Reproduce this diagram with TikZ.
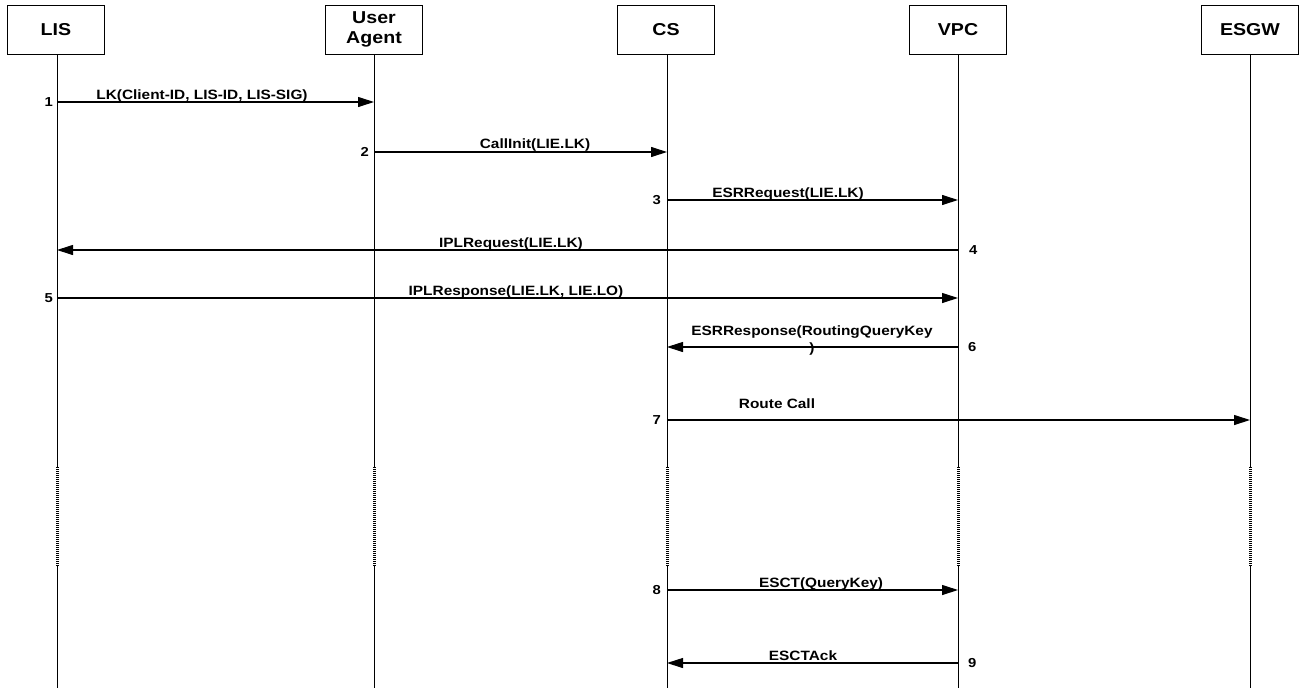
\documentclass[tikz,border=0pt]{standalone}
\usepackage{fontspec}
\setmainfont{Liberation Sans}
\newfontfamily\widefont{Liberation Sans}[FakeStretch=1.14]
\usetikzlibrary{arrows.meta,calc}
\begin{document}
\begin{tikzpicture}[x=1pt,y=-1pt,
  entity/.style={draw,line width=0.9pt,minimum width=97pt,minimum height=49pt,
    inner sep=0pt,align=center,font=\widefont\bfseries\fontsize{17.2}{20}\selectfont},
  lifeline/.style={line width=0.9pt},
  gapbar/.style={fill=black},
  gapdot/.style={fill=white},
  msg/.style={line width=1.1pt,-{Triangle[length=16pt,width=10pt]}},
  lbl/.style={anchor=base,inner sep=0pt,font=\widefont\bfseries\fontsize{13.5}{17}\selectfont},
  num/.style={inner sep=0pt,font=\widefont\bfseries\fontsize{13}{15}\selectfont}]
\useasboundingbox (0,0) rectangle (1305,688);

% participants
\node[entity] (lis)  at (56,29.5)   {LIS};
\node[entity] (ua)   at (374,29.5)  {User\\Agent};
\node[entity] (cs)   at (666,29.5)  {CS};
\node[entity] (vpc)  at (958,29.5)  {VPC};
\node[entity] (esgw) at (1250,29.5) {ESGW};

% anchor points on each lifeline
\foreach \L/\xx in {lis/57,ua/374,cs/667,vpc/958,esgw/1250} {
  \coordinate (\L-top) at (\xx,54);
  \coordinate (\L-end) at (\xx,688);
  \foreach \k/\yy in {1/102,2/152,3/200,4/250,5/298,6/347,7/420,8/590,9/663,ga/467,gb/566} {
    \coordinate (\L-\k) at (\xx,\yy);
  }
}

% lifelines, each with a dotted bar marking the elided stretch
\foreach \L in {lis,ua,cs,vpc,esgw} {
  \draw[lifeline] (\L-top) -- (\L-end);
  \fill[gapbar] ($(\L-ga)+(-1.5,0)$) rectangle ($(\L-gb)+(1.5,0)$);
  \foreach \d in {1,3,...,97} {
    \fill[gapdot] ($(\L-ga)+(-1.5,\d)$) rectangle ($(\L-ga)+(1.5,\d+0.4)$);
  }
}

% messages
\draw[msg] (lis-1) -- (ua-1);
\node[lbl] (t1) at (202,99.5) {LK(Client-ID, LIS-ID, LIS-SIG)};
\node[num,anchor=east] (n1) at (53,102) {1};

\draw[msg] (ua-2) -- (cs-2);
\node[lbl] (t2) at (535,148.5) {CallInit(LIE.LK)};
\node[num,anchor=east] (n2) at (369,152) {2};

\draw[msg] (cs-3) -- (vpc-3);
\node[lbl] (t3) at (788,197) {ESRRequest(LIE.LK)};
\node[num,anchor=east] (n3) at (661,200) {3};

\draw[msg] (vpc-4) -- (lis-4);
\node[lbl] (t4) at (511,247) {IPLRequest(LIE.LK)};
\node[num,anchor=west] (n4) at (969,250) {4};

\draw[msg] (lis-5) -- (vpc-5);
\node[lbl] (t5) at (516,295) {IPLResponse(LIE.LK, LIE.LO)};
\node[num,anchor=east] (n5) at (53,298) {5};

\draw[msg] (vpc-6) -- (cs-6);
\node[anchor=south,inner sep=0pt,align=center,
  font=\widefont\bfseries\fontsize{13.5}{17}\selectfont] (t6) at (812,355.5)
  {ESRResponse(RoutingQueryKey\\)};
\node[num,anchor=west] (n6) at (968,347) {6};

\draw[msg] (cs-7) -- (esgw-7);
\node[lbl] (t7) at (777,408) {Route Call};
\node[num,anchor=east] (n7) at (661,420) {7};

\draw[msg] (cs-8) -- (vpc-8);
\node[lbl] (t8) at (821,587) {ESCT(QueryKey)};
\node[num,anchor=east] (n8) at (661,590) {8};

\draw[msg] (vpc-9) -- (cs-9);
\node[lbl] (t9) at (803,660) {ESCTAck};
\node[num,anchor=west] (n9) at (968,663) {9};
\end{tikzpicture}
\end{document}
